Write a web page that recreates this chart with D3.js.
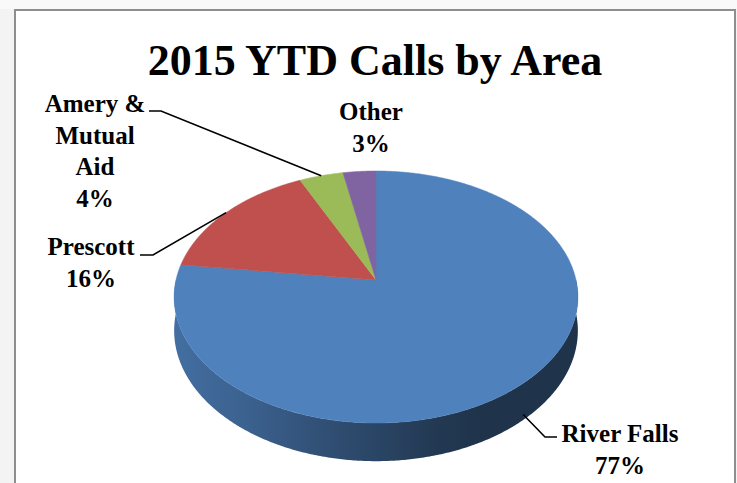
<!DOCTYPE html>
<html>
<head>
<meta charset="utf-8">
<script src="https://cdn.jsdelivr.net/npm/d3@7"></script>
<style>
  html, body { margin: 0; padding: 0; background: #f3f3f3; }
  svg { display: block; }
  .lbl { font-family: "Liberation Serif", "Times New Roman", serif; font-weight: bold; font-size: 25px; fill: #000; }
  .title { font-family: "Liberation Serif", "Times New Roman", serif; font-weight: bold; font-size: 44px; fill: #000; }
  .leader { fill: none; stroke: #000; stroke-width: 1.6px; }
</style>
</head>
<body>
<svg></svg>
<script>
const width = 737, height = 483;

const chartTitle = '2015 YTD Calls by Area';
const areas = ['River Falls', 'Prescott', 'Amery & Mutual Aid', 'Other'];
const shares = [77, 16, 4, 3];
const labelNames = [['River Falls'], ['Prescott'], ['Amery &', 'Mutual', 'Aid'], ['Other']];
const colors = ['#4f81bd', '#c0504d', '#9bbb59', '#8064a2'];

// where each label sits (center x, first baseline) and where its leader bends
const labelPos = [
  {x: 620, y: 442, elbow: [557, 437], start: [545, 437], side: true},
  {x: 91, y: 255, elbow: [140, 255], start: [153, 255]},
  {x: 95, y: 112, elbow: [149, 111], start: [161, 111]},
  {x: 371, y: 120}
];
const lineGap = 31.7;

const svg = d3.select('svg')
  .attr('width', width)
  .attr('height', height);

// chart frame
svg.append('rect')
  .attr('x', 0).attr('y', 0).attr('width', width).attr('height', 9)
  .attr('fill', '#f9f9f9');
svg.append('rect')
  .attr('x', 15).attr('y', 10).attr('width', 720).attr('height', 490)
  .attr('fill', '#fff')
  .attr('stroke', '#8e8e8e')
  .attr('stroke-width', 2);

svg.append('text')
  .attr('class', 'title')
  .attr('x', 375).attr('y', 75)
  .attr('text-anchor', 'middle')
  .text(chartTitle);

// simple perspective projection of a tilted disc
const cx = 376, cy = 280, R = 200, dist = 1482, tilt = 0.6186, depth = 33;
const proj = (a, drop = 0) => {
  const X = R * Math.sin(a), Y = R * Math.cos(a);
  const s = dist / (dist + Y);
  return [cx + X * s, cy - Y * tilt * s + drop * s];
};

const pie = d3.pie().sort(null).value(d => d);
const arcs = pie(shares);

const rim = (a0, a1, drop) => {
  const n = Math.max(2, Math.ceil(Math.abs(a1 - a0) / (Math.PI / 360)));
  return d3.range(n + 1).map(i => proj(a0 + (a1 - a0) * i / n, drop));
};

const defs = svg.append('defs');
colors.forEach((c, i) => {
  const g = defs.append('linearGradient')
    .attr('id', 'side' + i)
    .attr('gradientUnits', 'userSpaceOnUse')
    .attr('x1', cx - R).attr('x2', cx + R).attr('y1', 0).attr('y2', 0);
  const base = d3.color(c);
  [[0, 0.45], [0.18, 0.8], [0.35, 1.3], [0.5, 1.75], [0.65, 2.3], [0.76, 2.6], [1, 2.6]].forEach(([o, k]) => {
    g.append('stop').attr('offset', o).attr('stop-color', base.darker(k).formatHex());
  });
});

// visible side walls (front half only)
const line = d3.line();
arcs.forEach((d, i) => {
  const a0 = Math.max(d.startAngle, Math.PI / 2);
  const a1 = Math.min(d.endAngle, Math.PI * 1.5);
  if (a1 <= a0) return;
  const pts = rim(a0, a1, 0).concat(rim(a1, a0, depth));
  svg.append('path')
    .attr('d', line(pts) + 'Z')
    .attr('fill', `url(#side${i})`);
});

// top faces
arcs.forEach((d, i) => {
  const pts = [[cx, cy]].concat(rim(d.startAngle, d.endAngle, 0));
  svg.append('path')
    .attr('d', line(pts) + 'Z')
    .attr('fill', colors[i])
    .attr('stroke', colors[i])
    .attr('stroke-width', 0.5);
});

// labels + leader lines
arcs.forEach((d, i) => {
  const p = labelPos[i];
  const lines = labelNames[i].concat([`${shares[i]}%`]);
  const t = svg.append('text')
    .attr('class', 'lbl')
    .attr('text-anchor', 'middle');
  lines.forEach((s, j) => {
    t.append('tspan').attr('x', p.x).attr('y', p.y + j * lineGap).text(s);
  });
  if (p.elbow) {
    const mid = (d.startAngle + d.endAngle) / 2;
    const end = proj(mid, p.side ? depth * 0.85 : 0);
    svg.append('path')
      .attr('class', 'leader')
      .attr('d', line([p.elbow, p.start, end]));
  }
});
</script>
</body>
</html>
